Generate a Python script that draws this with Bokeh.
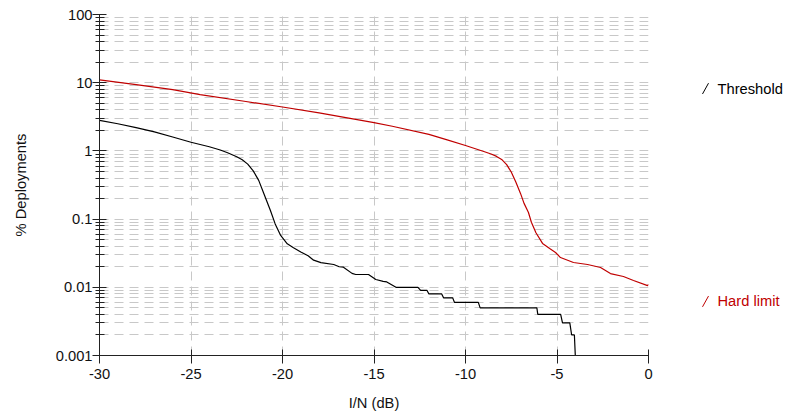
from bokeh.plotting import figure
from bokeh.layouts import row
from bokeh.models import FixedTicker, CustomJSTickFormatter
from bokeh.core.properties import value
from bokeh.embed import file_html
from bokeh.resources import INLINE

# ---- data ----
threshold_x = [-30, -29, -28, -27, -26, -25, -24, -23.4, -23, -22.5, -22.2, -21.9, -21.6, -21.3,
               -21.0, -20.66, -20.4, -20.1, -19.74, -19.4, -19.0, -18.6, -18.3, -17.9, -17.2,
               -16.9, -16.67, -16.2, -16.0, -15.3, -14.9, -14.5, -14.3, -13.8, -12.6, -12.45,
               -12.1, -12.0, -11.3, -11.2, -10.7, -10.6, -9.3, -9.2, -6.1, -6.05, -4.8, -4.7,
               -4.3, -4.2, -4.05, -3.95]
threshold_y = [2.8, 2.5, 2.2, 1.9, 1.6, 1.34, 1.15, 1.03, 0.94, 0.82, 0.74, 0.64, 0.51, 0.37,
               0.23, 0.134, 0.085, 0.0575, 0.0435, 0.038, 0.033, 0.029, 0.025, 0.023, 0.0216,
               0.020, 0.0197, 0.016, 0.0154, 0.0154, 0.013, 0.0122, 0.012, 0.010, 0.010, 0.009,
               0.009, 0.008, 0.008, 0.007, 0.007, 0.006, 0.006, 0.005, 0.005, 0.004, 0.004,
               0.003, 0.003, 0.002, 0.002, 0.0005]

hard_x = [-30, -28, -26, -24.5, -22, -20, -18, -16, -15, -14, -12, -11, -10, -9, -8.6, -8.3,
          -8.0, -7.75, -7.5, -7.25, -7.0, -6.8, -6.56, -6.4, -6.15, -5.79, -5.4, -5.08, -4.81,
          -4.1, -3.33, -2.62, -2.08, -1.37, -0.82, -0.05, 0]
hard_y = [11, 9.4, 7.9, 6.7, 5.3, 4.4, 3.6, 2.9, 2.6, 2.3, 1.75, 1.45, 1.2, 0.98, 0.9, 0.83,
          0.74, 0.63, 0.49, 0.35, 0.24, 0.17, 0.125, 0.09, 0.063, 0.044, 0.037, 0.0324,
          0.0273, 0.0231, 0.0216, 0.0195, 0.0159, 0.0144, 0.0126, 0.0106, 0.011]

x_ticks = [-30, -25, -20, -15, -10, -5, 0]
y_ticks = [0.001, 0.01, 0.1, 1, 10, 100]
series_names = ["Threshold", "Hard limit"]
series_colors = ["#000000", "#c00000"]
legend_levels = [8.2, 0.0062]

FONT = "Liberation Sans"
FS = "14.7px"

p = figure(width=660, height=416, x_range=(-30, 0), y_range=(0.001, 100),
           y_axis_type="log", output_backend="svg", toolbar_location=None,
           min_border_left=99, min_border_right=12, min_border_top=14,
           min_border_bottom=61)
p.outline_line_color = None
p.background_fill_color = "white"

minor = [m * d for d in y_ticks[:-1] for m in range(2, 10)]
p.yaxis.ticker = FixedTicker(ticks=y_ticks, minor_ticks=minor)
p.xaxis.ticker = FixedTicker(ticks=x_ticks)
p.yaxis.formatter = CustomJSTickFormatter(code="return String(Number(tick.toPrecision(6)));")
p.xaxis.formatter = CustomJSTickFormatter(code="return String(Math.round(tick));")

for ax in (p.xaxis[0], p.yaxis[0]):
    ax.axis_line_color = "#222222"
    ax.major_tick_line_color = "#222222"
    ax.minor_tick_line_color = "#222222"
    ax.major_label_text_font = FONT
    ax.major_label_text_font_size = FS
    ax.major_label_text_color = "#111111"
    ax.axis_label_text_font = FONT
    ax.axis_label_text_font_size = FS
    ax.axis_label_text_font_style = "normal"
    ax.axis_label_text_color = "#111111"

p.xaxis.axis_label = "I/N (dB)"
p.yaxis.axis_label = "% Deployments"
p.xaxis.major_tick_in = 6
p.xaxis.major_tick_out = 8
p.xaxis.minor_tick_line_color = None
p.xaxis.major_label_standoff = 5
p.xaxis.axis_label_standoff = 13
p.yaxis.major_tick_in = 7
p.yaxis.major_tick_out = 7
p.yaxis.minor_tick_in = 5
p.yaxis.minor_tick_out = 4
p.yaxis.major_label_standoff = 0
p.yaxis.axis_label_standoff = 24

for g in (p.xgrid[0], p.ygrid[0]):
    g.grid_line_color = "#c8c8c8"
    g.grid_line_dash = "9 6"
    g.grid_line_width = 1
p.ygrid.minor_grid_line_color = "#c8c8c8"
p.ygrid.minor_grid_line_dash = "9 6"

p.line(threshold_x, threshold_y, line_color=series_colors[0], line_width=1.2)
p.line(hard_x, hard_y, line_color=series_colors[1], line_width=1.2)

# legend panel to the right, sharing the log y range
lg = figure(width=127, height=416, x_range=(0, 127), y_range=p.y_range,
            y_axis_type="log", x_axis_location=None, y_axis_location=None,
            output_backend="svg", toolbar_location=None,
            min_border_left=0, min_border_right=0, min_border_top=14,
            min_border_bottom=61)
lg.outline_line_color = None
lg.xgrid.visible = False
lg.ygrid.visible = False

for name, col, ly in zip(series_names, series_colors, legend_levels):
    lg.segment(x0=[42], y0=[ly / 1.2], x1=[48], y1=[ly * 1.2], line_color=col, line_width=1)
    lg.text(x=[57], y=[ly], text=[name], text_baseline="middle", text_align="left",
            text_font=value(FONT), text_font_size=FS, text_color=col)

layout = row(p, lg, spacing=0)
open("out.html", "w").write(file_html(layout, INLINE))
